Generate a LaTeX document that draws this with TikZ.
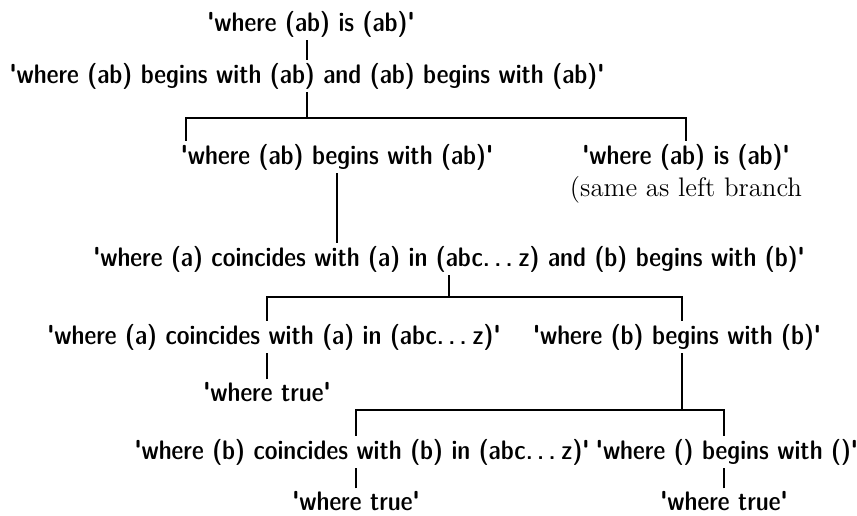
\documentclass[tikz,border=0pt]{standalone}
\usepackage{fontspec}
\newfontfamily\tsans{lmsansdemicond10-regular.otf}
\newcommand\sq{{\XeTeXglyph\XeTeXcharglyph"27\relax}}
\newcommand\dotsz{.\kern.16em.\kern.16em.\kern.22em}
\usetikzlibrary{positioning}

\begin{document}
\begin{tikzpicture}[x=0.5pt,y=-0.5pt,line width=1pt,
  stmt/.style={font=\fontsize{13.4}{16}\selectfont\tsans,inner sep=1pt}]
\useasboundingbox (0,0) rectangle (857,515);

\node[stmt] (root) at (311,24) {\sq where (ab) is (ab)\sq};
\node[stmt] (l1) at (307,76) {\sq where (ab) begins with (ab) and (ab) begins with (ab)\sq};
\coordinate (j1l) at (186,118);
\coordinate (j1r) at (686,118);
\node[stmt] (a) at (337,157) {\sq where (ab) begins with (ab)\sq};
\node[stmt,anchor=north,align=center] (b) at (686,141) {\sq where (ab) is (ab)\sq\\{\rmfamily (same as left branch}};
\node[stmt] (l3) at (449,259) {\sq where (a) coincides with (a) in (abc\dotsz z) and (b) begins with (b)\sq};
\coordinate (j2l) at (267,297);
\coordinate (j2r) at (682,297);
\node[stmt] (c) at (274,337) {\sq where (a) coincides with (a) in (abc\dotsz z)\sq};
\node[stmt] (d) at (677,337) {\sq where (b) begins with (b)\sq};
\node[stmt] (t1) at (267,392) {\sq where true\sq};
\coordinate (j3l) at (356,410);
\coordinate (j3r) at (724,410);
\node[stmt] (e) at (362,452) {\sq where (b) coincides with (b) in (abc\dotsz z)\sq};
\node[stmt] (f) at (727,452) {\sq where () begins with ()\sq};
\node[stmt] (t2) at (356,501) {\sq where true\sq};
\node[stmt] (t3) at (724,501) {\sq where true\sq};

\draw (l1.north) -- (l1.north |- root.south);
\draw (l1.south) -- (l1.south |- j1l);
\draw (a.north -| j1l) -- (j1l) -- (j1r) -- (b.north -| j1r);
\draw (a.south) -- (a.south |- l3.north);
\draw (l3.south) -- (l3.south |- j2l);
\draw (c.north -| j2l) -- (j2l) -- (j2r) -- (d.north -| j2r);
\draw (t1.north) -- (t1.north |- c.south);
\draw (d.south -| j2r) -- (j2r |- j3l);
\draw (e.north -| j3l) -- (j3l) -- (j3r) -- (f.north -| j3r);
\draw (t2.north) -- (t2.north |- e.south);
\draw (t3.north) -- (t3.north |- f.south);

\end{tikzpicture}
\end{document}
